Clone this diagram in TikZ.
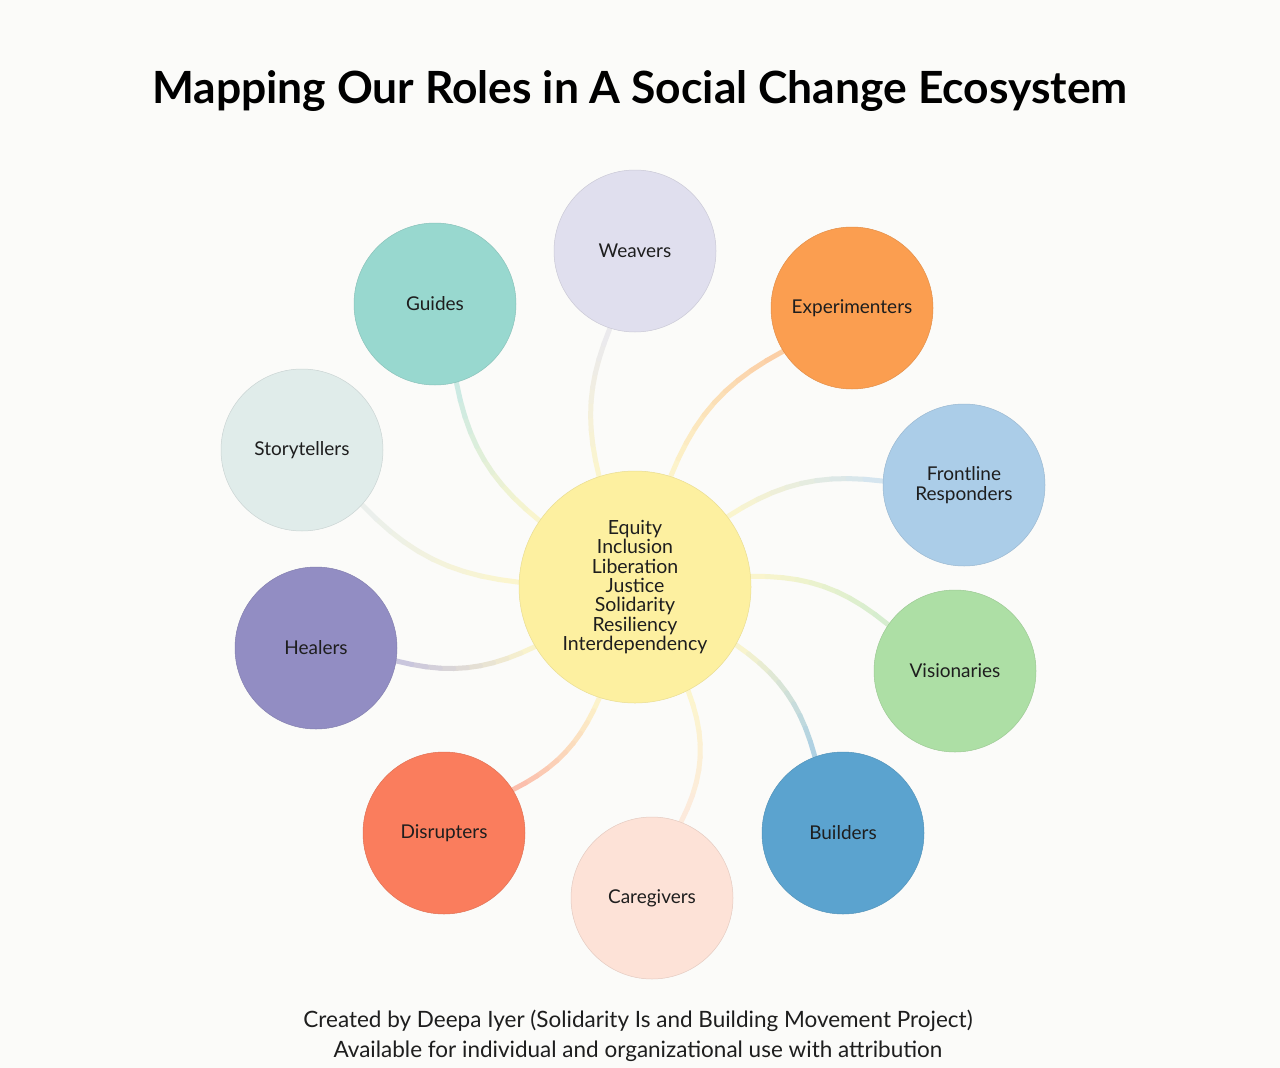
\documentclass[tikz,border=0pt]{standalone}
\usepackage{fontspec}
\setmainfont{Lato}
\usetikzlibrary{positioning}
\definecolor{bgc}{HTML}{FBFBF9}
\definecolor{cen}{HTML}{FDF0A0}
\definecolor{cWeav}{HTML}{E0DFEE}
\definecolor{cGuid}{HTML}{98D8CF}
\definecolor{cExpe}{HTML}{FB9E50}
\definecolor{cStor}{HTML}{E0ECEA}
\definecolor{cFron}{HTML}{ABCDE8}
\definecolor{cHeal}{HTML}{928DC3}
\definecolor{cVisi}{HTML}{ADDFA5}
\definecolor{cDisr}{HTML}{FA7D5D}
\definecolor{cBuil}{HTML}{5BA3CF}
\definecolor{cCare}{HTML}{FDE2D7}
\definecolor{txt}{HTML}{1E1E1E}
\pgfdeclarelayer{back}
\pgfdeclarelayer{links}
\pgfsetlayers{back,links,main}
\tikzset{
  role/.style={circle, minimum size=162pt, inner sep=0pt, fill=#1, draw=#1!90!black, line width=0.5pt,
    align=center, text=txt, font=\fontsize{19}{20}\selectfont},
  hub/.style={circle, minimum size=232pt, inner sep=0pt, fill=cen, draw=cen!92!black, line width=0.5pt,
    align=center, text=txt, font=\fontsize{19.5}{19.3}\selectfont},
  linkseg/.style={line width=5pt, line cap=round},
}
% connector from hub (c) to node #2 with gradient from hub colour to #3
\newcommand\rolelink[3][20]{%
  \path (c) to[bend left=#1]
    coordinate[pos=0] (q0) coordinate[pos=0.1] (q1) coordinate[pos=0.2] (q2)
    coordinate[pos=0.3] (q3) coordinate[pos=0.4] (q4) coordinate[pos=0.5] (q5)
    coordinate[pos=0.6] (q6) coordinate[pos=0.7] (q7) coordinate[pos=0.8] (q8)
    coordinate[pos=0.9] (q9) coordinate[pos=1] (q10) (#2);
  \foreach \i [evaluate=\i as \j using int(\i+1), evaluate=\i as \t using int(10*\i+5)] in {0,...,9}{
    \draw[linkseg, color={#3!\t!cen!50!bgc}] (q\i) -- (q\j);
  }%
}
\begin{document}
\begin{tikzpicture}[x=1pt, y=-1pt]
\begin{pgfonlayer}{back}
  \fill[bgc] (0,0) rectangle (1280,1068);
\end{pgfonlayer}
\useasboundingbox (0,0) rectangle (1280,1068);

\node[font=\bfseries\fontsize{44.4}{50}\selectfont, text=black] (title) at (640,91) {Mapping Our Roles in A Social Change Ecosystem};

\node[hub] (c) at (635,587) {Equity\\Inclusion\\Liberation\\Justice\\Solidarity\\Resiliency\\Interdependency};

\node[role=cWeav] (weav) at (635,251) {Weavers};
\node[role=cGuid] (guid) at (435,304) {Guides};
\node[role=cExpe] (expe) at (852,308) {Experimenters};
\node[role=cStor] (stor) at (302,450) {Storytellers};
\node[role=cFron] (fron) at (964,485) {Frontline\\Responders};
\node[role=cHeal] (heal) at (316,648) {Healers};
\node[role=cVisi] (visi) at (955,671) {Visionaries};
\node[role=cDisr] (disr) at (444,833) {Disrupters};
\node[role=cBuil] (buil) at (843,833) {Builders};
\node[role=cCare] (care) at (652,898) {Caregivers};

\begin{pgfonlayer}{links}
  \rolelink[18]{weav}{cWeav!92!gray}
  \rolelink{guid}{cGuid}
  \rolelink{expe}{cExpe}
  \rolelink{stor}{cStor!92!gray}
  \rolelink{fron}{cFron}
  \rolelink{heal}{cHeal}
  \rolelink{visi}{cVisi}
  \rolelink{disr}{cDisr}
  \rolelink{buil}{cBuil}
  \rolelink[24]{care}{cCare!90!orange}
\end{pgfonlayer}

\node[font=\fontsize{22.5}{30}\selectfont, text=txt, align=center] (credit) at (638,1036)
  {Created by Deepa Iyer (Solidarity Is and Building Movement Project)\\Available for individual and organizational use with attribution};
\end{tikzpicture}
\end{document}
